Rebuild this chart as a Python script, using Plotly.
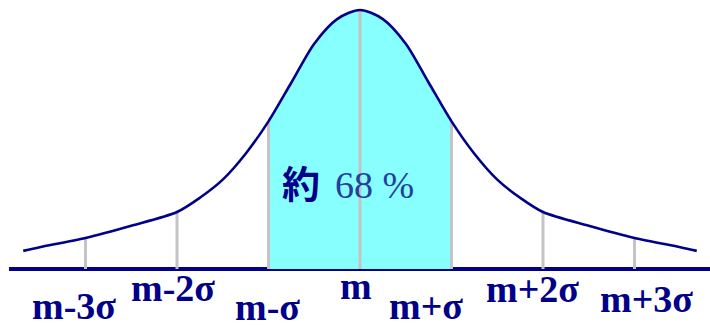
import plotly.graph_objects as go

# Curve sample points (in units of sigma) and relative heights
sigma_x = [-3.68, -3.5, -3.0, -2.5, -2.0, -1.75, -1.5, -1.25, -1.0, -0.75, -0.5, -0.25, 0.0,
           0.25, 0.5, 0.75, 1.0, 1.25, 1.5, 1.75, 2.0, 2.5, 3.0, 3.5, 3.68]
density = [0.07, 0.084, 0.12, 0.167, 0.22, 0.275, 0.345, 0.445, 0.57, 0.72, 0.87, 0.965, 1.0,
           0.965, 0.87, 0.72, 0.57, 0.445, 0.345, 0.275, 0.22, 0.167, 0.12, 0.084, 0.07]

# Tick positions and labels
tick_pos = [-3, -2, -1, 0, 1, 2, 3]
tick_labels = ["m-3σ", "m-2σ", "m-σ", "m", "m+σ", "m+2σ", "m+3σ"]

shade_from, shade_to = -1, 1
pct_char = "約"
pct_text = "68 %"

NAVY = "#000088"
CYAN = "#88FFFF"
GRAY = "#C4C4C4"

lookup = dict(zip(sigma_x, density))

fig = go.Figure()

# shaded +-1 sigma region
sx = [x for x in sigma_x if shade_from <= x <= shade_to]
sy = [lookup[x] for x in sx]
fig.add_trace(go.Scatter(x=sx, y=sy, mode="lines", fill="tozeroy", fillcolor=CYAN,
                         line=dict(width=0, shape="spline", smoothing=0.8), hoverinfo="skip"))

# gray vertical guide lines
for t in tick_pos:
    fig.add_trace(go.Scatter(x=[t, t], y=[0, lookup[float(t)]], mode="lines",
                             line=dict(color=GRAY, width=3), hoverinfo="skip"))

# curve
fig.add_trace(go.Scatter(x=sigma_x, y=density, mode="lines",
                         line=dict(color=NAVY, width=2.6, shape="spline", smoothing=0.8),
                         hoverinfo="skip"))

# label layout (pixel offsets)
label_xshift = [-12, -4, -1, -4, -26, -11, 12]
label_yc_px = [306, 288, 307, 286, 306, 289, 299]
H = 327
for t, lab, dx, yc in zip(tick_pos, tick_labels, label_xshift, label_yc_px):
    fig.add_annotation(x=t, xref="x", y=1 - yc / H, yref="paper", text=f"<b>{lab}</b>",
                       showarrow=False, xanchor="center", yanchor="middle", xshift=dx,
                       font=dict(family="Liberation Serif", size=38, color=NAVY))

fig.add_annotation(x=-0.645, xref="x", y=1 - 181 / H, yref="paper", text=f"<b>{pct_char}</b>",
                   showarrow=False, xanchor="center", yanchor="middle",
                   font=dict(family="Noto Sans CJK JP", size=38, color=NAVY))
fig.add_annotation(x=-0.3, xref="x", y=1 - 185 / H, yref="paper", text=pct_text,
                   showarrow=False, xanchor="left", yanchor="middle",
                   font=dict(family="Liberation Serif", size=38, color="#24409A"))

fig.update_layout(
    width=710, height=327,
    margin=dict(l=9, r=0, t=0, b=0),
    paper_bgcolor="white", plot_bgcolor="white",
    showlegend=False,
    xaxis=dict(range=[-3.836, 3.825], visible=False, fixedrange=True),
    yaxis=dict(range=[-0.224, 1.0386], showgrid=False, showticklabels=False, ticks="",
               zeroline=True, zerolinecolor=NAVY, zerolinewidth=4, fixedrange=True),
)

fig.write_html("out.html", config={"displayModeBar": False},
               post_script="document.body.style.margin='0';document.body.style.overflow='hidden';")
